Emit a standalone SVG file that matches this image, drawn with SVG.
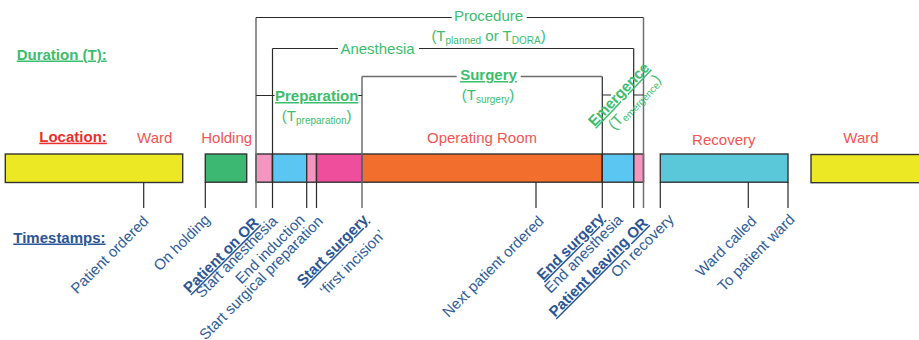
<svg xmlns="http://www.w3.org/2000/svg" width="919" height="340" viewBox="0 0 919 340">
<style>
text{font-family:"Liberation Sans",Arial,sans-serif;font-size:15px}
.g{fill:#3dbd6e}
.gb{fill:#3dbd6e;font-weight:bold;text-decoration:underline}
.r{fill:#f25555}
.rb{fill:#e8302c;font-weight:bold;text-decoration:underline}
.b{fill:#2e5c9a}
.bb{fill:#2a5597;font-weight:bold;text-decoration:underline}
.sub{font-size:10px}
.bar{stroke:#333;stroke-width:1.4}
.ln{stroke:#2a2a2a;stroke-width:1.2;fill:none}
.lg{stroke:#6e6e6e;stroke-width:1.5;fill:none}
</style>
<rect width="919" height="340" fill="#fff"/>

<g id="headings">
<text x="16.7" y="59.5" class="gb">Duration (T):</text>
<text x="39.3" y="141.7" class="rb">Location:</text>
<text x="13.3" y="242.5" class="bb">Timestamps:</text>
</g>

<g id="locations">
<text x="154.7" y="142.7" text-anchor="middle" class="r">Ward</text>
<text x="226.7" y="142.7" text-anchor="middle" class="r">Holding</text>
<text x="482" y="142.7" text-anchor="middle" class="r">Operating Room</text>
<text x="723.8" y="145" text-anchor="middle" class="r">Recovery</text>
<text x="861" y="142.7" text-anchor="middle" class="r">Ward</text>
</g>

<g id="bar-ward1"><rect x="5.3" y="154" width="177.4" height="28.5" fill="#ede824" class="bar"/></g>
<g id="bar-holding"><rect x="205.3" y="154" width="41.4" height="28.2" fill="#3cb872" class="bar"/></g>
<g id="bar-or">
<rect x="256" y="154" width="16.5" height="28.2" fill="#f497c0" class="bar"/>
<rect x="272.5" y="154" width="34.2" height="28.2" fill="#5bc6f2" class="bar"/>
<rect x="306.7" y="154" width="9.8" height="28.2" fill="#f497c0" class="bar"/>
<rect x="316.5" y="154" width="45.5" height="28.2" fill="#ee4e9c" class="bar"/>
<rect x="362" y="154" width="240.3" height="28.2" fill="#f26e2c" class="bar"/>
<rect x="602.3" y="154" width="31.4" height="28.2" fill="#5bc6f2" class="bar"/>
<rect x="633.7" y="154" width="9.8" height="28.2" fill="#f497c0" class="bar"/>
</g>
<g id="bar-recovery"><rect x="660.3" y="154" width="127.7" height="28.2" fill="#5bc8da" class="bar"/></g>
<g id="bar-ward2"><rect x="811" y="154.5" width="115" height="28.2" fill="#ede824" class="bar"/></g>

<g id="connectors">
<path class="lg" d="M256,17.5V208"/>
<path class="ln" d="M272.5,48.5V208"/>
<path class="lg" d="M362,76.5V208"/>
<path class="ln" d="M602.3,76.5V208"/>
<path class="ln" d="M633.7,48.5V208"/>
<path class="lg" d="M643.5,17.5V208"/>
<path class="ln" d="M143.7,182.5V208M205.3,182V208M306.7,182V208M316.5,182V208M536,182V208M660.3,182V208M748.3,182V208M788,182V208"/>
<path class="ln" d="M256,17.5H451.7M526.7,17.5H643.5"/>
<path class="ln" d="M272.5,48.5H338M419,48.5H633.7"/>
<path class="lg" d="M362,76.5H456.7M520.7,76.5H602.3"/>
<path class="ln" d="M256,95.5H274.5M358.3,95.5H362"/>
<path class="ln" d="M602.3,95H611M633.7,95H643.5"/>
</g>

<g id="durations">
<text x="488.5" y="21" text-anchor="middle" class="g">Procedure</text>
<text x="488.5" y="41" text-anchor="middle" class="g">(T<tspan class="sub" dy="3">planned</tspan><tspan dy="-3"> or T</tspan><tspan class="sub" dy="3">DORA</tspan><tspan dy="-3">)</tspan></text>
<text x="377.5" y="54" text-anchor="middle" class="g">Anesthesia</text>
<text x="488.5" y="80" text-anchor="middle" class="gb">Surgery</text>
<text x="488" y="100" text-anchor="middle" class="g">(T<tspan class="sub" dy="3">surgery</tspan><tspan dy="-3">)</tspan></text>
<text x="316.7" y="101" text-anchor="middle" class="gb">Preparation</text>
<text x="316.7" y="121" text-anchor="middle" class="g">(T<tspan class="sub" dy="3">preparation</tspan><tspan dy="-3">)</tspan></text>
<text transform="translate(622.3,97.8) rotate(-46.5)" text-anchor="middle" class="gb">Emergence</text>
<text transform="translate(638,105.3) rotate(-46.5)" text-anchor="middle" class="g">(T<tspan class="sub" dy="3">emergence</tspan><tspan dy="-3">)</tspan></text>
</g>

<g id="timestamps" text-anchor="end">
<text transform="translate(149.5,222) rotate(-45)" class="b">Patient ordered</text>
<text transform="translate(211,220.5) rotate(-45)" class="b">On holding</text>
<text transform="translate(259.7,223.7) rotate(-45)" class="bb">Patient on OR</text>
<text transform="translate(278.3,222.2) rotate(-45)" class="b">Start anesthesia</text>
<text transform="translate(305.7,220.5) rotate(-45)" class="b">End induction</text>
<text transform="translate(324,222.2) rotate(-45)" class="b">Start surgical preparation</text>
<text transform="translate(369,220.5) rotate(-45)" class="bb">Start surgery</text>
<text transform="translate(386,236) rotate(-45)" class="b">‘first incision’</text>
<text transform="translate(544.7,222) rotate(-45)" class="b">Next patient ordered</text>
<text transform="translate(605,219) rotate(-45)" class="bb">End surgery</text>
<text transform="translate(623.7,220.8) rotate(-45)" class="b">End anesthesia</text>
<text transform="translate(648.7,224) rotate(-45)" class="bb">Patient leaving OR</text>
<text transform="translate(674.7,220.5) rotate(-45)" class="b">On recovery</text>
<text transform="translate(757.3,222) rotate(-45)" class="b">Ward called</text>
<text transform="translate(795.7,220.3) rotate(-45)" class="b">To patient ward</text>
</g>
</svg>
